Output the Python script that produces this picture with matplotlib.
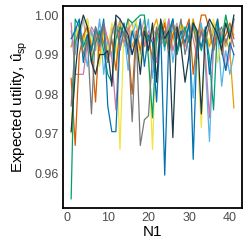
import numpy as np
import matplotlib
matplotlib.use("Agg")
import matplotlib.pyplot as plt

plt.rcParams['font.family'] = ['Liberation Sans', 'DejaVu Sans']
plt.rcParams['mathtext.fontset'] = 'custom'
plt.rcParams['mathtext.rm'] = 'Liberation Sans'
plt.rcParams['mathtext.it'] = 'Liberation Sans'

n1 = np.arange(1, 42)

orange = [0.992, 0.994, 0.996, 0.993, 0.999, 0.991, 0.995, 0.989, 0.997, 0.993, 0.990, 0.996, 0.998, 0.994, 0.999, 0.992, 0.995, 0.997, 0.993, 0.991, 0.996, 0.999, 0.994, 0.992, 0.997, 0.995, 0.990, 0.998, 0.996, 0.993, 0.999, 0.994, 0.997, 0.995, 0.992, 0.996, 0.999, 0.990, 0.994, 0.991, 0.9765]
skyblue = [0.996, 0.990, 0.998, 0.993, 0.987, 0.996, 0.991, 0.999, 0.985, 0.994, 0.989, 0.997, 0.992, 0.996, 0.986, 0.995, 0.998, 0.990, 0.994, 0.999, 0.984, 0.993, 0.997, 0.991, 0.999, 0.988, 0.995, 0.992, 0.996, 0.990, 0.979, 0.994, 0.998, 0.987, 0.968, 0.993, 0.996, 0.982, 0.991, 0.985, 0.990]
green = [0.9535, 0.999, 0.997, 0.992, 0.995, 0.988, 0.993, 0.996, 0.991, 0.985, 0.983, 0.994, 0.997, 0.995, 0.999, 0.998, 0.999, 1.0, 1.0, 0.989, 0.974, 0.995, 0.998, 0.992, 0.996, 0.999, 0.990, 0.994, 0.997, 0.993, 0.998, 0.995, 0.991, 0.996, 0.989, 0.976, 0.998, 0.993, 1.0, 0.995, 0.999]
yellow = [0.970, 0.994, 0.998, 0.989, 0.999, 0.993, 0.996, 0.987, 0.995, 0.991, 0.998, 0.994, 0.966, 0.997, 0.992, 0.996, 0.999, 0.988, 0.995, 0.991, 0.966, 0.997, 0.993, 0.999, 0.990, 0.996, 0.994, 0.998, 0.992, 0.995, 0.997, 0.990, 0.9715, 0.996, 0.993, 0.999, 0.988, 0.994, 1.0, 0.992, 0.997]
blue = [0.994, 0.996, 0.999, 0.988, 0.995, 0.991, 0.997, 0.993, 0.999, 0.977, 0.9705, 0.9705, 0.994, 0.998, 0.990, 0.996, 0.992, 0.999, 0.987, 0.995, 0.993, 0.978, 0.997, 0.9595, 0.994, 0.999, 0.991, 0.996, 0.993, 0.998, 0.9635, 0.995, 0.992, 0.997, 0.985, 0.994, 0.999, 0.991, 0.986, 0.993, 0.990]
vermillion = [0.984, 0.967, 0.990, 0.995, 0.997, 0.992, 0.978, 0.996, 0.993, 0.988, 0.994, 0.986, 0.997, 0.995, 0.992, 0.980, 0.996, 0.991, 0.997, 0.994, 0.989, 0.996, 0.993, 0.998, 0.990, 0.995, 0.997, 0.992, 0.996, 0.999, 0.985, 0.994, 1.0, 1.0, 0.996, 0.991, 0.997, 0.993, 0.995, 0.998, 0.994]
pink = [0.998, 0.985, 0.985, 0.985, 0.993, 0.997, 0.995, 0.991, 0.998, 0.994, 0.989, 0.976, 0.996, 0.993, 0.997, 0.990, 0.995, 0.998, 0.992, 0.996, 0.994, 0.988, 0.997, 0.993, 0.999, 0.991, 0.995, 0.996, 0.992, 0.998, 0.994, 0.989, 0.996, 0.990, 0.974, 0.993, 0.997, 0.995, 0.986, 0.990, 0.999]
gray = [0.977, 0.993, 0.996, 0.990, 0.994, 0.975, 0.997, 0.992, 0.998, 0.988, 0.995, 0.999, 0.991, 0.996, 0.994, 0.973, 0.995, 0.967, 0.9735, 0.9745, 0.990, 0.997, 0.993, 0.996, 0.991, 0.998, 0.994, 0.999, 0.990, 0.995, 0.997, 0.992, 0.996, 0.993, 0.998, 0.991, 0.995, 0.997, 0.993, 0.996, 0.992]
lightgray = [0.992, 0.997, 0.994, 0.999, 0.991, 0.996, 0.993, 0.998, 0.995, 0.990, 0.997, 0.994, 0.999, 0.992, 0.996, 0.998, 0.993, 0.995, 0.999, 0.991, 0.997, 0.994, 0.996, 0.999, 0.993, 0.995, 0.998, 0.992, 0.996, 0.994, 0.999, 0.991, 0.997, 0.995, 0.993, 0.998, 0.994, 0.996, 0.992, 0.997, 0.995]
darkslate = [0.9705, 0.985, 0.996, 1.0, 0.997, 0.988, 0.985, 0.990, 0.990, 0.991, 0.982, 1.0, 0.999, 0.997, 0.995, 0.990, 0.994, 0.985, 0.996, 0.991, 0.998, 0.983, 0.999, 0.994, 0.996, 0.969, 0.997, 0.992, 0.983, 0.990, 0.998, 0.996, 0.975, 0.996, 0.999, 0.997, 0.995, 0.991, 0.998, 0.994, 1.0]

series = [
    (lightgray, '#AAAAAA'),
    (orange, '#E69F00'),
    (skyblue, '#56B4E9'),
    (yellow, '#F0E442'),
    (pink, '#CC79A7'),
    (vermillion, '#D55E00'),
    (green, '#009E73'),
    (blue, '#0072B2'),
    (gray, '#777777'),
    (darkslate, '#1B3B45'),
]

fig = plt.figure(figsize=(2.49, 2.49), dpi=100)
ax = fig.add_axes([0.253, 0.165, 0.719, 0.811])
for vals, col in series:
    ax.plot(n1, vals, color=col, lw=0.9)

ax.set_xlim(-1, 43)
ax.set_ylim(0.9512, 1.0023)
ax.set_xticks([0, 10, 20, 30, 40])
ax.set_yticks([0.96, 0.97, 0.98, 0.99, 1.00])
ax.set_yticklabels(['0.96', '0.97', '0.98', '0.99', '1.00'])
ax.tick_params(length=0, pad=3, labelsize=9, labelcolor='#4D4D4D')
for s in ax.spines.values():
    s.set_linewidth(1.3)
ax.set_xlabel('N1', fontsize=11, labelpad=1)
ax.set_ylabel(r'Expected utility, $\hat{\mathrm{u}}_{\mathrm{sp}}$', fontsize=11, labelpad=3)

fig.savefig('out.png', dpi=100)
